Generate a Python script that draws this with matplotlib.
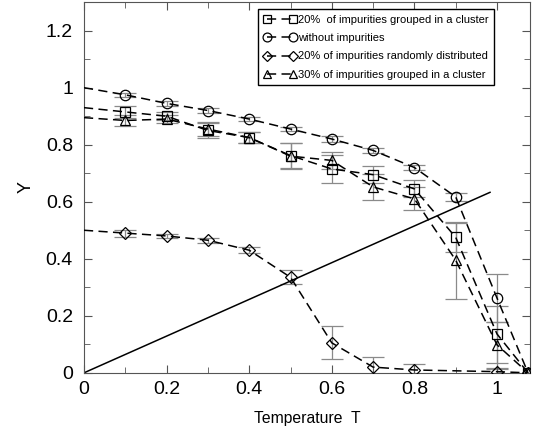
import matplotlib
matplotlib.use("Agg")
import matplotlib.pyplot as plt
from matplotlib.ticker import MultipleLocator

plt.rcParams['font.family'] = ['Liberation Sans', 'DejaVu Sans']

# Temperature grid (first point at T=0 has no marker, last at the right edge)
T = [0.0, 0.1, 0.2, 0.3, 0.4, 0.5, 0.6, 0.7, 0.8, 0.9, 1.0, 1.075]

# 20% of impurities grouped in a cluster (squares)
y_sq = [0.93, 0.915, 0.90, 0.85, 0.825, 0.762, 0.715, 0.695, 0.645, 0.475, 0.136, 0.0]
e_sq = [0.0, 0.02, 0.015, 0.025, 0.02, 0.045, 0.05, 0.03, 0.03, 0.05, 0.10, 0.0]

# without impurities (circles)
y_ci = [1.0, 0.975, 0.945, 0.92, 0.89, 0.855, 0.82, 0.78, 0.72, 0.617, 0.262, 0.0]
e_ci = [0.0, 0.008, 0.008, 0.008, 0.008, 0.008, 0.01, 0.01, 0.01, 0.015, 0.085, 0.0]

# 20% of impurities randomly distributed (diamonds)
T_di = [0.0, 0.1, 0.2, 0.3, 0.4, 0.5, 0.6, 0.7, 0.8, 1.0, 1.075]
y_di = [0.5, 0.49, 0.48, 0.465, 0.43, 0.335, 0.105, 0.02, 0.01, 0.004, 0.0]
e_di = [0.0, 0.012, 0.008, 0.008, 0.01, 0.025, 0.058, 0.037, 0.02, 0.01, 0.0]

# 30% of impurities grouped in a cluster (triangles)
y_tr = [0.895, 0.885, 0.89, 0.855, 0.825, 0.76, 0.745, 0.652, 0.61, 0.395, 0.098, 0.0]
e_tr = [0.0, 0.02, 0.015, 0.025, 0.02, 0.045, 0.03, 0.045, 0.04, 0.135, 0.08, 0.0]

# reference straight line
T_line = [0.0, 0.983]
y_line = [0.0, 0.633]

series = [
    (T, y_sq, e_sq, 's', "20%  of impurities grouped in a cluster"),
    (T, y_ci, e_ci, 'o', "without impurities"),
    (T_di, y_di, e_di, 'D', "20% of impurities randomly distributed"),
    (T, y_tr, e_tr, '^', "30% of impurities grouped in a cluster"),
]

fig = plt.figure(figsize=(5.42, 4.32), dpi=100)
ax = fig.add_axes([0.155, 0.137, 0.823, 0.858])

for x, y, e, m, label in series:
    # error bars (grey), markers skip the T=0 anchor point
    ax.errorbar(x[1:-1], y[1:-1], yerr=e[1:-1], fmt='none', ecolor='#8a8a8a',
                elinewidth=0.9, capsize=8, capthick=0.9, zorder=1)
    ms = 6 if m == 'D' else 7.5
    ax.plot(x, y, color='black', linestyle=(0, (6, 3.5)), linewidth=1.1,
            marker=m, markersize=ms, markerfacecolor='none', markeredgecolor='black',
            markeredgewidth=0.9, markevery=list(range(1, len(x))), label=label, zorder=3)

ax.plot(T_line, y_line, color='black', linewidth=1.1, zorder=2)

ax.set_xlim(0, 1.08)
ax.set_ylim(0, 1.3)
ax.xaxis.set_major_locator(MultipleLocator(0.2))
ax.xaxis.set_minor_locator(MultipleLocator(0.1))
ax.yaxis.set_major_locator(MultipleLocator(0.2))
ax.yaxis.set_minor_locator(MultipleLocator(0.1))
ax.xaxis.set_major_formatter(plt.FuncFormatter(lambda v, p: f"{v:g}"))
ax.yaxis.set_major_formatter(plt.FuncFormatter(lambda v, p: f"{v:g}"))
ax.tick_params(which='both', direction='in', top=True, right=True, colors='#555555',
               labelcolor='black', labelsize=14)
ax.tick_params(axis='y', which='major', length=6, pad=8)
ax.tick_params(axis='x', which='major', length=6, pad=6)
ax.tick_params(which='minor', length=4)
for s in ax.spines.values():
    s.set_color('#555555')

ax.set_xlabel("Temperature  T", fontsize=11.3, labelpad=9)
ax.set_ylabel("Y", fontsize=13, labelpad=8)

leg = ax.legend(loc='upper right', fontsize=8, numpoints=2, handlelength=3.0,
                frameon=True, fancybox=False, edgecolor='black', framealpha=1,
                borderpad=0.5, labelspacing=0.75, handletextpad=0.1,
                borderaxespad=0, markerscale=0.85,
                bbox_to_anchor=(0.919, 0.981))
leg.get_frame().set_linewidth(1.0)

fig.savefig("out.png", dpi=100)
